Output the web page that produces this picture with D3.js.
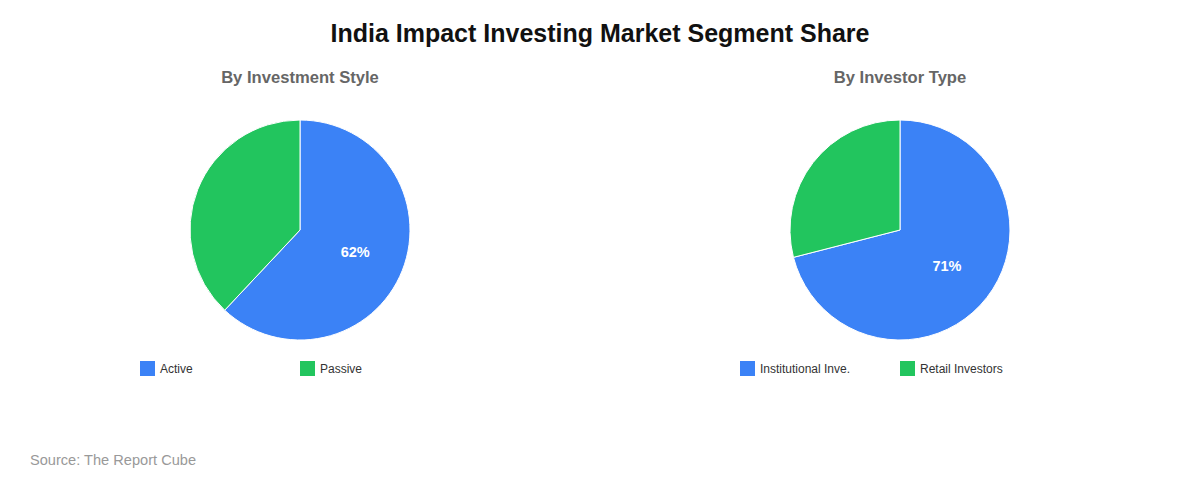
<!DOCTYPE html>
<html>
<head>
<meta charset="utf-8">
<script src="https://cdn.jsdelivr.net/npm/d3@7"></script>
<style>
  body { margin: 0; background: #fff; }
  svg { font-family: Arial, "Liberation Sans", sans-serif; }
</style>
</head>
<body>
<div id="chart"></div>
<script>
// Chart data
const styleLabels = ["Active", "Passive"];
const styleValues = [62, 38];
const investorLabels = ["Institutional Inve.", "Retail Investors"];
const investorValues = [71, 29];
const sliceColors = ["#3b82f6", "#22c55e"];

const width = 1200;
const height = 480;
const radius = 110;

const svg = d3.select("#chart").append("svg")
    .attr("width", width)
    .attr("height", height);

// Main title
svg.append("text")
    .attr("x", width / 2)
    .attr("y", 42)
    .attr("text-anchor", "middle")
    .style("font-size", "25px")
    .style("font-weight", "bold")
    .style("fill", "#111")
    .text("India Impact Investing Market Segment Share");

const pie = d3.pie().sort(null).value(d => d);
const arc = d3.arc().innerRadius(0).outerRadius(radius);
const labelArc = d3.arc().innerRadius(radius * 0.54).outerRadius(radius * 0.54);

function drawPie(cx, title, labels, values) {
    const g = svg.append("g");

    g.append("text")
        .attr("x", cx)
        .attr("y", 83)
        .attr("text-anchor", "middle")
        .style("font-size", "16.6px")
        .style("font-weight", "bold")
        .style("fill", "#666")
        .text(title);

    const color = d3.scaleOrdinal().domain(labels).range(sliceColors);
    const arcs = pie(values);

    const pg = g.append("g").attr("transform", `translate(${cx},230)`);

    pg.selectAll("path")
        .data(arcs)
        .enter().append("path")
        .attr("d", arc)
        .attr("fill", (d, i) => color(labels[i]))
        .attr("stroke", "#fff")
        .attr("stroke-width", 1);

    // only the big slice gets a label
    pg.selectAll("text")
        .data(arcs.filter(d => d.value >= 50))
        .enter().append("text")
        .attr("transform", d => `translate(${labelArc.centroid(d)})`)
        .attr("text-anchor", "middle")
        .attr("dy", "0.35em")
        .style("font-size", "14.5px")
        .style("font-weight", "bold")
        .style("fill", "#fff")
        .text(d => d.value + "%");

    // Legend
    const legendX = d3.scalePoint().domain(labels).range([cx - 160, cx]);
    const lg = g.selectAll(".legend")
        .data(labels)
        .enter().append("g")
        .attr("transform", d => `translate(${legendX(d)},361)`);

    lg.append("rect")
        .attr("width", 15)
        .attr("height", 15)
        .attr("fill", d => color(d));

    lg.append("text")
        .attr("x", 20)
        .attr("y", 12)
        .style("font-size", "12px")
        .style("fill", "#333")
        .text(d => d);
}

drawPie(300, "By Investment Style", styleLabels, styleValues);
drawPie(900, "By Investor Type", investorLabels, investorValues);

// Source
svg.append("text")
    .attr("x", 30)
    .attr("y", 465)
    .style("font-size", "14.6px")
    .style("fill", "#999")
    .text("Source: The Report Cube");
</script>
</body>
</html>
